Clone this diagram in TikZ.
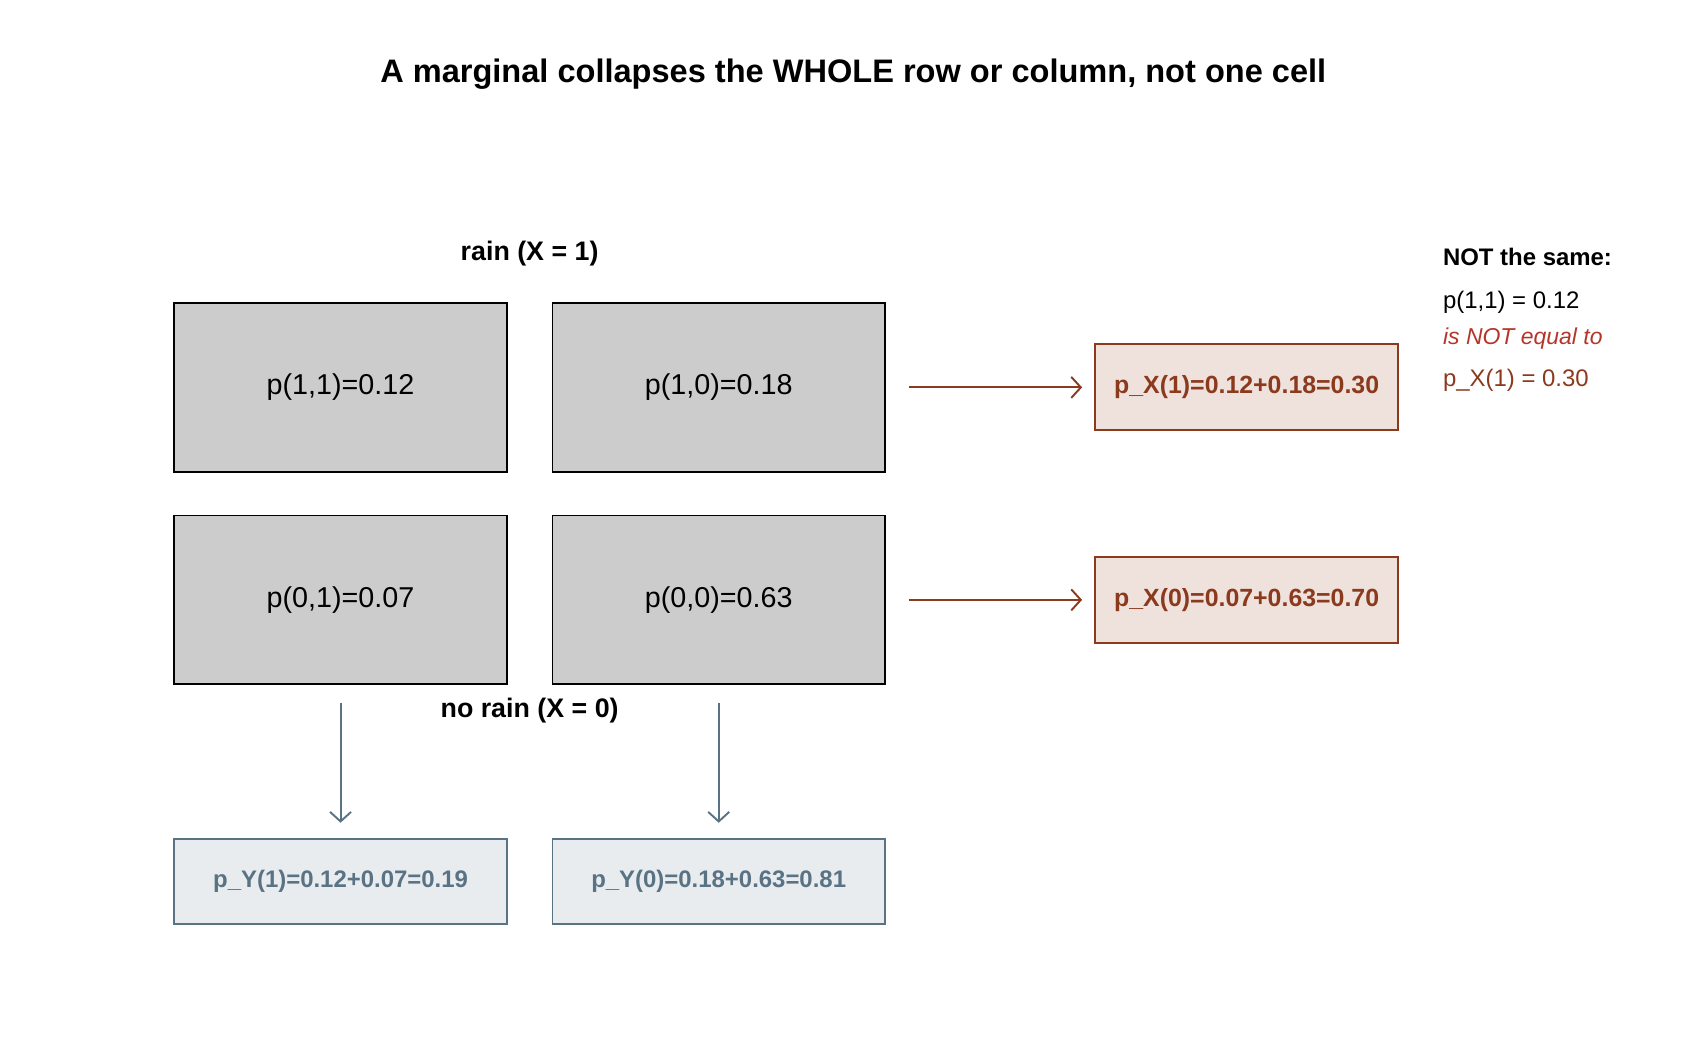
\documentclass[tikz,border=0pt]{standalone}
\usepackage{fontspec}
\setmainfont{Liberation Sans}
\usetikzlibrary{positioning, arrows.meta}
\definecolor{margx}{HTML}{8B3A1E}
\definecolor{margxfill}{HTML}{EFE2DD}
\definecolor{margy}{HTML}{5A7384}
\definecolor{margyfill}{HTML}{E8ECEF}
\definecolor{notered}{HTML}{B5352A}
\tikzset{
  cell/.style={draw, line width=1pt, fill=black!20, minimum width=6.1cm, minimum height=3.1cm, font=\fontsize{15}{18}\selectfont},
  xbox/.style={draw=margx, line width=1pt, fill=margxfill, text=margx, minimum width=5.56cm, minimum height=1.58cm, font=\bfseries\fontsize{13}{16}\selectfont},
  ybox/.style={draw=margy, line width=1pt, fill=margyfill, text=margy, minimum width=6.1cm, minimum height=1.56cm, font=\bfseries\fontsize{12.5}{15}\selectfont},
  xarr/.style={draw=margx, line width=1pt, -{Straight Barb[length=5pt, width=11pt]}},
  yarr/.style={draw=margy, line width=1pt, -{Straight Barb[length=5pt, width=11pt]}},
  note/.style={anchor=west, font=\fontsize{12.5}{15}\selectfont}
}
\begin{document}
\begin{tikzpicture}[x=0.02cm, y=-0.02cm]
\useasboundingbox (0,0) rectangle (1560,963);

% Title
\node[font=\bfseries\fontsize{17}{20}\selectfont] (title) at (783,68) {A marginal collapses the WHOLE row or column, not one cell};

% Joint cells
\node[cell] (c11) at (312.5,355.5) {p(1,1)=0.12};
\node[cell] (c10) at (659.5,355.5) {p(1,0)=0.18};
\node[cell] (c01) at (312.5,550.5) {p(0,1)=0.07};
\node[cell] (c00) at (659.5,550.5) {p(0,0)=0.63};

% Row labels
\node[font=\bfseries\fontsize{14}{17}\selectfont] (rain) at (486,233) {rain (X = 1)};
\node[font=\bfseries\fontsize{14}{17}\selectfont] (norain) at (486,652) {no rain (X = 0)};

% Marginals
\node[xbox] (px1) at (1144,355.5) {p\_X(1)=0.12+0.18=0.30};
\node[xbox] (px0) at (1144,550.5) {p\_X(0)=0.07+0.63=0.70};
\node[ybox] (py1) at (312.5,809) {p\_Y(1)=0.12+0.07=0.19};
\node[ybox] (py0) at (659.5,809) {p\_Y(0)=0.18+0.63=0.81};

% Collapse arrows
\coordinate (a1) at (993,355.5);
\coordinate (a0) at (993,550.5);
\coordinate (b1) at (312.5,755);
\coordinate (b0) at (659.5,755);
\draw[xarr] ([xshift=12pt]c10.east) -- (a1);
\draw[xarr] ([xshift=12pt]c00.east) -- (a0);
\draw[yarr] ([yshift=-9pt]c01.south) -- (b1);
\draw[yarr] ([yshift=-9pt]c00.south) -- (b0);

% Side note
\node[note, font=\bfseries\fontsize{12.5}{15}\selectfont] (n1) at (1318,236) {NOT the same:};
\node[note] (n2) at (1318,277) {p(1,1) = 0.12};
\node[note, text=notered, font=\itshape\fontsize{12}{15}\selectfont] (n3) at (1318,311) {is NOT equal to};
\node[note, text=margx] (n4) at (1318,349) {p\_X(1) = 0.30};
\end{tikzpicture}
\end{document}
